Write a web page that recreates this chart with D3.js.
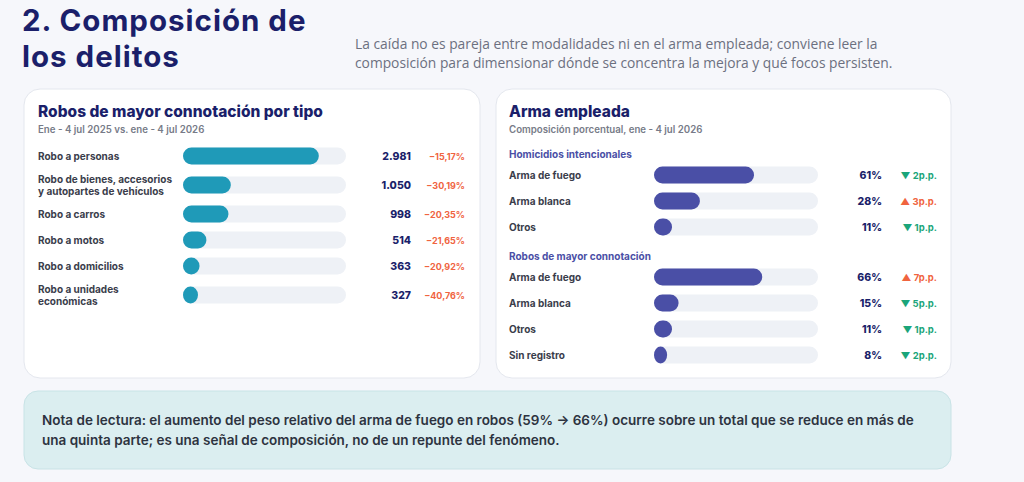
<!DOCTYPE html>
<html>
<head>
<meta charset="utf-8">
<script src="https://cdn.jsdelivr.net/npm/d3@7"></script>
<style>
  body { margin: 0; background: #f6f7fb; }
  svg { display: block; font-family: Inter, 'Noto Sans', sans-serif; }
</style>
</head>
<body>
<svg width="1024" height="482"></svg>
<script>
// data
const robosCategories = [
    ['Robo a personas'],
    ['Robo de bienes, accesorios', 'y autopartes de vehículos'],
    ['Robo a carros'],
    ['Robo a motos'],
    ['Robo a domicilios'],
    ['Robo a unidades', 'económicas']
];
const robosValues = [2981, 1050, 998, 514, 363, 327];
const robosChange = [-15.17, -30.19, -20.35, -21.65, -20.92, -40.76];

const homicidiosCategories = ['Arma de fuego', 'Arma blanca', 'Otros'];
const homicidiosPct = [61, 28, 11];
const homicidiosDelta = [-2, 3, -1];

const robosArmaCategories = ['Arma de fuego', 'Arma blanca', 'Otros', 'Sin registro'];
const robosArmaPct = [66, 15, 11, 8];
const robosArmaDelta = [7, -5, -1, -2];

const navy = '#1b1f6a';
const teal = '#1f9ab8';
const purple = '#4a4fa6';
const track = '#eef1f6';
const coral = '#f0643f';
const green = '#1aa57a';

const svg = d3.select('svg');
const es = d3.formatLocale({ decimal: ',', thousands: '.', grouping: [3], currency: ['$', ''] });
const fmtInt = es.format(',d');
const fmtPct = es.format('.2f');

// header
const heading = ['2. Composición de', 'los delitos'];
svg.append('g').selectAll('text')
    .data(heading)
    .join('text')
    .attr('x', 22)
    .attr('y', (d, i) => 31 + i * 36)
    .attr('fill', navy)
    .attr('font-size', 29.5).attr('font-weight', 700)
    .attr('letter-spacing', 1)
    .text(d => d);

const intro = ['La caída no es pareja entre modalidades ni en el arma empleada; conviene leer la',
    'composición para dimensionar dónde se concentra la mejora y qué focos persisten.'];
svg.append('g').selectAll('text')
    .data(intro)
    .join('text')
    .attr('x', 355)
    .attr('y', (d, i) => 49 + i * 19)
    .attr('fill', '#6c7080')
    .attr('font-size', 13.8)
    .attr('font-family', "'Open Sans', sans-serif")
    .text(d => d);

// cards
function card(x, y, w, h) {
    svg.append('rect')
        .attr('x', x).attr('y', y)
        .attr('width', w).attr('height', h)
        .attr('rx', 16)
        .attr('fill', '#fff')
        .attr('stroke', '#e4e7ee');
}
card(24, 89, 456, 289);
card(496, 89, 455, 289);

function cardTitle(x, title, sub) {
    svg.append('text')
        .attr('x', x).attr('y', 117)
        .attr('fill', navy)
        .attr('font-size', 15.5).attr('font-weight', 800)
        .text(title);
    svg.append('text')
        .attr('x', x).attr('y', 133)
        .attr('fill', '#777b88')
        .attr('font-size', 9.7).attr('font-weight', 600)
        .text(sub);
}
cardTitle(38, 'Robos de mayor connotación por tipo', 'Ene - 4 jul 2025 vs. ene - 4 jul 2026');
cardTitle(509, 'Arma empleada', 'Composición porcentual, ene - 4 jul 2026');

const barH = 17;

// left card: rows are taller where the label wraps
const rowCenters = [];
robosCategories.forEach((c, i) => {
    if (i === 0) { rowCenters.push(156); return; }
    const extra = (robosCategories[i - 1].length > 1 ? 3 : 0) + (c.length > 1 ? 3 : 0);
    rowCenters.push(rowCenters[i - 1] + 26 + extra);
});

const xLeft = d3.scaleLinear()
    .domain([0, d3.max(robosValues) * 1.2])
    .range([0, 163]);

const leftRows = svg.append('g').selectAll('g')
    .data(robosValues.map((v, i) => ({ v, i, label: robosCategories[i], ch: robosChange[i], y: rowCenters[i] })))
    .join('g');

leftRows.append('text')
    .attr('x', 38)
    .attr('fill', '#3a3d4b')
    .attr('font-size', 10).attr('font-weight', 700)
    .selectAll('tspan')
    .data(d => d.label.map((l, j) => ({ l, y: d.y + 3.5 + (j - (d.label.length - 1) / 2) * 12 })))
    .join('tspan')
    .attr('x', 38)
    .attr('y', d => d.y)
    .text(d => d.l);

leftRows.append('rect')
    .attr('x', 183 + xLeft(0))
    .attr('y', d => d.y - barH / 2)
    .attr('width', xLeft.range()[1])
    .attr('height', barH)
    .attr('rx', barH / 2)
    .attr('fill', track);

leftRows.append('rect')
    .attr('x', 183 + xLeft(0))
    .attr('y', d => d.y - barH / 2)
    .attr('width', d => Math.max(xLeft(d.v), barH - 2))
    .attr('height', barH)
    .attr('rx', barH / 2)
    .attr('fill', teal);

leftRows.append('text')
    .attr('x', 411)
    .attr('y', d => d.y + 4)
    .attr('text-anchor', 'end')
    .attr('fill', navy)
    .attr('font-size', 10.5).attr('font-weight', 800)
    .text(d => fmtInt(d.v));

leftRows.append('text')
    .attr('x', 465)
    .attr('y', d => d.y + 4)
    .attr('text-anchor', 'end')
    .attr('fill', coral)
    .attr('font-size', 9).attr('font-weight', 700)
    .text(d => fmtPct(d.ch) + '%');

// right card
const xRight = d3.scaleLinear().domain([0, 100]).range([0, 164]);

function groupHeader(y, text) {
    svg.append('text')
        .attr('x', 509).attr('y', y)
        .attr('fill', purple)
        .attr('font-size', 10).attr('font-weight', 700)
        .text(text);
}

function weaponRows(cats, pct, delta, top) {
    const y = d3.scaleBand()
        .domain(cats)
        .range([top, top + cats.length * 26]);
    const rows = svg.append('g').selectAll('g')
        .data(cats.map((c, i) => ({ c, p: pct[i], d: delta[i] })))
        .join('g')
        .attr('transform', d => `translate(0,${y(d.c) + y.bandwidth() / 2})`);

    rows.append('text')
        .attr('x', 509).attr('y', 3.5)
        .attr('fill', '#3a3d4b')
        .attr('font-size', 10).attr('font-weight', 700)
        .text(d => d.c);

    rows.append('rect')
        .attr('x', 654).attr('y', -barH / 2)
        .attr('width', xRight(100)).attr('height', barH)
        .attr('rx', barH / 2)
        .attr('fill', track);

    rows.append('rect')
        .attr('x', 654).attr('y', -barH / 2)
        .attr('width', d => Math.max(xRight(d.p), barH - 4))
        .attr('height', barH)
        .attr('rx', barH / 2)
        .attr('fill', purple);

    rows.append('text')
        .attr('x', 882).attr('y', 4)
        .attr('text-anchor', 'end')
        .attr('fill', navy)
        .attr('font-size', 10.5).attr('font-weight', 800)
        .text(d => d.p + '%');

    rows.append('text')
        .attr('x', 937).attr('y', 4)
        .attr('text-anchor', 'end')
        .attr('fill', d => d.d < 0 ? green : coral)
        .attr('font-size', 9.5).attr('font-weight', 700)
        .text(d => (d.d < 0 ? '▼ ' : '▲ ') + Math.abs(d.d) + 'p.p.');
}

groupHeader(158, 'Homicidios intencionales');
weaponRows(homicidiosCategories, homicidiosPct, homicidiosDelta, 162);
groupHeader(260, 'Robos de mayor connotación');
weaponRows(robosArmaCategories, robosArmaPct, robosArmaDelta, 264);

// reading note
svg.append('rect')
    .attr('x', 24).attr('y', 391)
    .attr('width', 927).attr('height', 78)
    .attr('rx', 14)
    .attr('fill', '#dbeef0')
    .attr('stroke', '#c8e3e6');

const note = ['Nota de lectura: el aumento del peso relativo del arma de fuego en robos (59% → 66%) ocurre sobre un total que se reduce en más de',
    'una quinta parte; es una señal de composición, no de un repunte del fenómeno.'];
svg.append('g').selectAll('text')
    .data(note)
    .join('text')
    .attr('x', 42)
    .attr('y', (d, i) => 425 + i * 19.5)
    .attr('fill', '#2d3340')
    .attr('font-size', 13.5).attr('font-weight', 600)
    .text(d => d);
</script>
</body>
</html>
